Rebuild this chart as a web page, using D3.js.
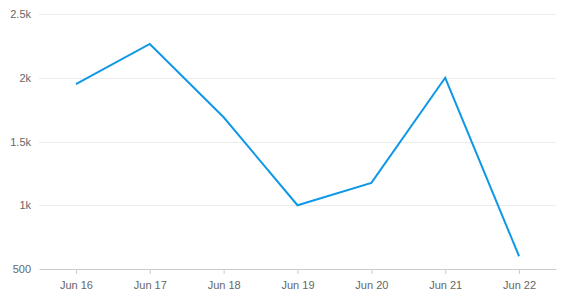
<!DOCTYPE html>
<html>
<head>
<meta charset="utf-8">
<script src="https://cdn.jsdelivr.net/npm/d3@7"></script>
<style>
  body { margin: 0; background: #fff; }
  text { font-family: "Liberation Sans", Arial, sans-serif; }
</style>
</head>
<body>
<div id="chart"></div>
<script>
// data
var days = ["Jun 16", "Jun 17", "Jun 18", "Jun 19", "Jun 20", "Jun 21", "Jun 22"];
var values = [1950, 2265, 1690, 1000, 1175, 2000, 600];
var yTicks = [500, 1000, 1500, 2000, 2500];
var yTickLabels = ["500", "1k", "1.5k", "2k", "2.5k"];

var svgWidth = 561;
var svgHeight = 307;
var margin = { top: 14, right: 5, bottom: 38, left: 39 };
var width = svgWidth - margin.left - margin.right;
var height = svgHeight - margin.top - margin.bottom;

var svg = d3.select("#chart")
  .append("svg")
  .attr("width", svgWidth)
  .attr("height", svgHeight);

var chartGroup = svg.append("g")
  .attr("transform", `translate(${margin.left}, ${margin.top})`);

var xScale = d3.scalePoint()
  .domain(days)
  .range([0, width])
  .padding(0.5);

var yScale = d3.scaleLinear()
  .domain([500, 2500])
  .range([height, 0]);

// gridlines
chartGroup.selectAll("line.grid")
  .data(yTicks.slice(1))
  .enter()
  .append("line")
  .attr("class", "grid")
  .attr("x1", 0)
  .attr("x2", width)
  .attr("y1", d => Math.round(yScale(d)) + 0.5)
  .attr("y2", d => Math.round(yScale(d)) + 0.5)
  .attr("stroke", "#ececec")
  .attr("stroke-width", 1);

// y labels
var leftAxis = d3.axisLeft(yScale)
  .tickValues(yTicks)
  .tickSize(0)
  .tickPadding(8)
  .tickFormat((d, i) => yTickLabels[i]);

var yAxis = chartGroup.append("g").call(leftAxis);
yAxis.select(".domain").remove();
yAxis.selectAll("text")
  .attr("fill", "#666")
  .style("font-size", "11px");

// x axis
var bottomAxis = d3.axisBottom(xScale)
  .tickSize(5)
  .tickSizeOuter(0)
  .tickPadding(7);

var xAxis = chartGroup.append("g")
  .attr("transform", `translate(0, ${height})`)
  .call(bottomAxis);
xAxis.select(".domain").attr("stroke", "#ccc").attr("stroke-width", 1);
xAxis.selectAll(".tick line").attr("stroke", "#ccc");
xAxis.selectAll("text")
  .attr("fill", "#666")
  .style("font-size", "11px");

// line
var line = d3.line()
  .x((d, i) => xScale(days[i]))
  .y(d => yScale(d));

chartGroup.append("path")
  .datum(values)
  .attr("d", line)
  .attr("fill", "none")
  .attr("stroke", "#0f98e6")
  .attr("stroke-width", 2)
  .attr("stroke-linejoin", "miter");
</script>
</body>
</html>
